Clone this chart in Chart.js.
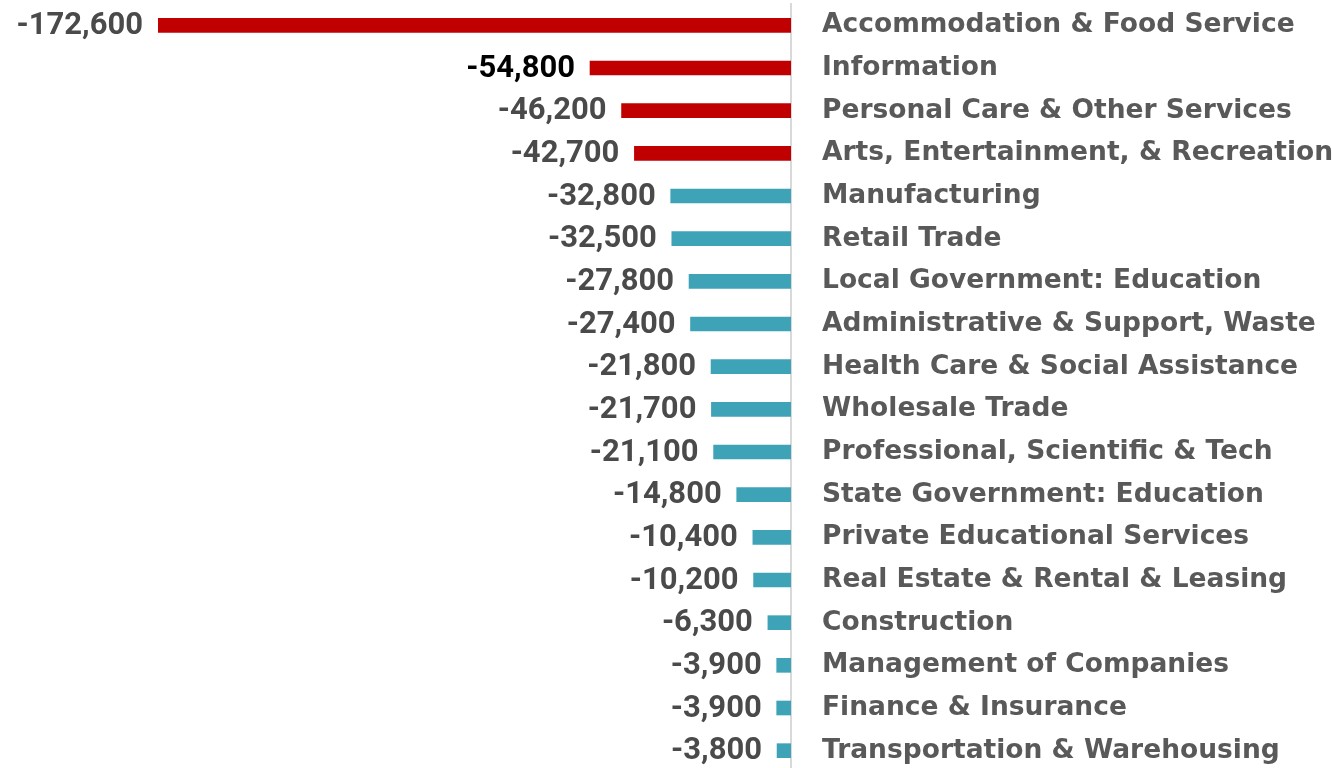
<!DOCTYPE html>
<html>
<head>
<meta charset="utf-8">
<script src="https://cdn.jsdelivr.net/npm/chart.js@4"></script>
<style>
  html, body { margin: 0; padding: 0; background: #fff; overflow: hidden; }
  #wrap { width: 1332px; height: 772px; }
</style>
</head>
<body>
<div id="wrap"><canvas id="jobChart"></canvas></div>
<script>
const categories = [
  'Accommodation & Food Service',
  'Information',
  'Personal Care & Other Services',
  'Arts, Entertainment, & Recreation',
  'Manufacturing',
  'Retail Trade',
  'Local Government: Education',
  'Administrative & Support, Waste',
  'Health Care & Social Assistance',
  'Wholesale Trade',
  'Professional, Scientific & Tech',
  'State Government: Education',
  'Private Educational Services',
  'Real Estate & Rental & Leasing',
  'Construction',
  'Management of Companies',
  'Finance & Insurance',
  'Transportation & Warehousing'
];
const jobChange = [-172600, -54800, -46200, -42700, -32800, -32500, -27800, -27400,
  -21800, -21700, -21100, -14800, -10400, -10200, -6300, -3900, -3900, -3800];
const highlightCount = 4;

const red = '#C00000';
const teal = '#3FA3B8';

// numbers drawn to the left of each bar
const valueLabels = {
  id: 'valueLabels',
  afterDatasetsDraw(chart) {
    const ctx = chart.ctx;
    const meta = chart.getDatasetMeta(0);
    ctx.save();
    ctx.font = 'bold 31px Roboto';
    ctx.textAlign = 'right';
    ctx.textBaseline = 'middle';
    meta.data.forEach((bar, i) => {
      ctx.fillStyle = i === 1 ? '#000000' : '#4a4a4a';
      ctx.fillText(jobChange[i].toLocaleString('en-US'), bar.x - 15, bar.y + 1);
    });
    ctx.restore();
  }
};

const ctx = document.getElementById('jobChart').getContext('2d');
new Chart(ctx, {
  type: 'bar',
  data: {
    labels: categories,
    datasets: [{
      data: jobChange,
      backgroundColor: jobChange.map((v, i) => (i < highlightCount ? red : teal)),
      barThickness: 14
    }]
  },
  options: {
    indexAxis: 'y',
    responsive: true,
    maintainAspectRatio: false,
    animation: false,
    layout: { padding: { left: 158, top: 4, bottom: 0, right: 0 } },
    plugins: {
      legend: { display: false },
      tooltip: { enabled: false }
    },
    scales: {
      x: {
        display: false,
        min: -172600,
        max: 0
      },
      y: {
        position: 'right',
        grid: { display: false },
        border: { display: true, color: '#d9d9d9', width: 2 },
        ticks: {
          color: '#595959',
          padding: 23,
          font: { family: 'DejaVu Sans', weight: 'bold', size: 26.5 }
        },
        afterFit(axis) {
          axis.width = 541;
          axis.paddingTop = 0;
          axis.paddingBottom = 0;
        }
      }
    }
  },
  plugins: [valueLabels]
});
</script>
</body>
</html>
